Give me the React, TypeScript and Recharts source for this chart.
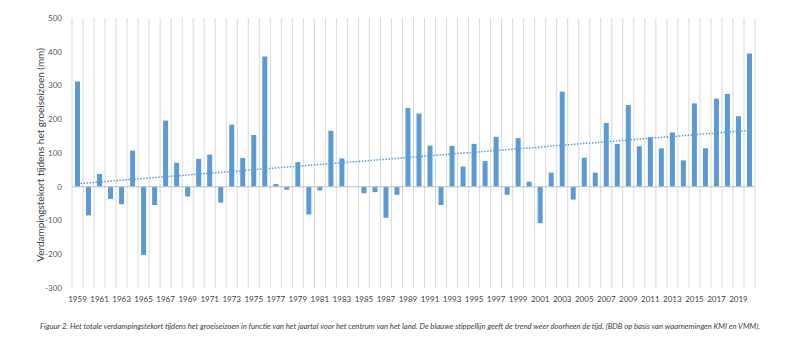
import React from 'react';
import { ComposedChart, Bar, XAxis, YAxis, CartesianGrid, ReferenceLine, Label } from 'recharts';

const years: string[] = [
  '1959','1960','1961','1962','1963','1964','1965','1966','1967','1968',
  '1969','1970','1971','1972','1973','1974','1975','1976','1977','1978',
  '1979','1980','1981','1982','1983','1984','1985','1986','1987','1988',
  '1989','1990','1991','1992','1993','1994','1995','1996','1997','1998',
  '1999','2000','2001','2002','2003','2004','2005','2006','2007','2008',
  '2009','2010','2011','2012','2013','2014','2015','2016','2017','2018',
  '2019','2020',
];

const deficit: number[] = [
  312, -85, 38, -36, -52, 107, -202, -54, 196, 71,
  -29, 83, 95, -47, 184, 85, 153, 386, 8, -9,
  73, -82, -11, 166, 84, 0, -19, -16, -92, -24,
  233, 217, 122, -54, 121, 60, 127, 76, 148, -24,
  144, 15, -108, 42, 282, -38, 86, 42, 189, 127,
  242, 120, 147, 114, 161, 78, 247, 114, 261, 275,
  209, 395,
];

const yTicks: number[] = [-300, -200, -100, 0, 100, 200, 300, 400, 500];
const trendStart = 9;
const trendEnd = 167;

const yLabel = 'Verdampingstekort tijdens het groeiseizoen (mm)';
const caption =
  'Figuur 2. Het totale verdampingstekort tijdens het groeiseizoen in functie van het jaartal voor het centrum van het land. De blauwe stippellijn geeft de trend weer doorheen de tijd. (BDB op basis van waarnemingen KMI en VMM).';

const data = years.map((y, i) => ({ year: y, value: deficit[i] }));

const FONT = 'Lato, "Open Sans", sans-serif';

export default function App() {
  const n = years.length;
  return (
    <div style={{ position: 'absolute', left: 0, top: 0, width: 800, height: 350, background: '#fff' }}>
      <ComposedChart
        width={800}
        height={310}
        data={data}
        margin={{ top: 18, right: 45, bottom: 0, left: 0 }}
      >
        <CartesianGrid
          horizontal={false}
          stroke="#d9d9d9"
          verticalCoordinatesGenerator={(props: any) => {
            const off = props.offset || { left: 72, width: 683 };
            return Array.from({ length: n + 1 }, (_, i) => off.left + (i * off.width) / n);
          }}
        />
        <XAxis
          dataKey="year"
          interval={1}
          tickLine={false}
          axisLine={false}
          height={22}
          tick={{ fontSize: 8, fill: '#404040', fontFamily: FONT }}
          tickMargin={2}
        />
        <YAxis
          width={72}
          domain={[-300, 500]}
          ticks={yTicks}
          tickLine={false}
          axisLine={false}
          tick={{ fontSize: 8, fill: '#595959', fontFamily: FONT }}
          tickMargin={4}
        >
          <Label
            content={(p: any) => {
              const vb = p.viewBox || { x: 0, y: 18, height: 270 };
              const cx = 41;
              const cy = vb.y + vb.height / 2 + 2;
              return (
                <text
                  x={cx}
                  y={cy}
                  transform={`rotate(-90 ${cx} ${cy})`}
                  textAnchor="middle"
                  dominantBaseline="middle"
                  fontSize={10}
                  fill="#404040"
                  fontFamily={FONT}
                >
                  {yLabel}
                </text>
              );
            }}
          />
        </YAxis>
        <ReferenceLine y={0} stroke="#bfbfbf" strokeWidth={1} />
        <Bar dataKey="value" fill="#5B9BD5" barSize={5} isAnimationActive={false} />
        <ReferenceLine
          segment={[{ x: years[0], y: trendStart }, { x: years[n - 1], y: trendEnd }]}
          stroke="#5B9BD5"
          strokeWidth={1.5}
          strokeDasharray="1.5 1.5"
        />
      </ComposedChart>
      <div
        style={{
          position: 'absolute',
          left: 0,
          top: 321,
          width: 800,
          textAlign: 'center',
          fontFamily: FONT,
          fontStyle: 'italic',
          fontSize: 7.7,
          color: '#404040',
          whiteSpace: 'nowrap',
        }}
      >
        {caption}
      </div>
    </div>
  );
}
